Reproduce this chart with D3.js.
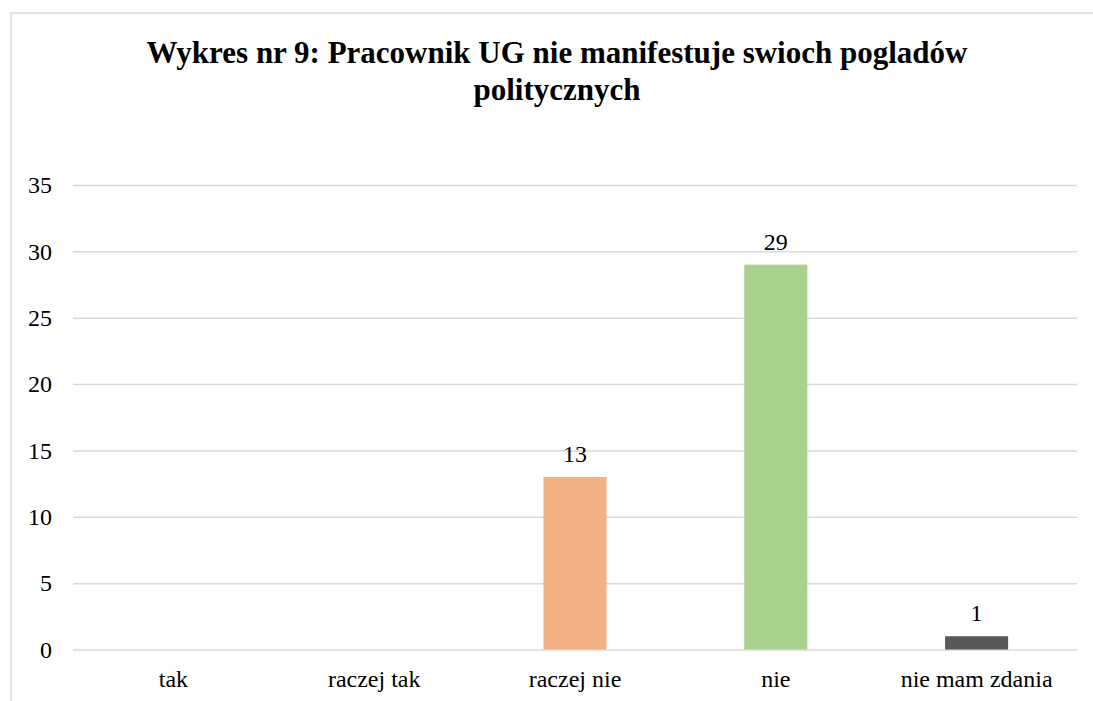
<!DOCTYPE html>
<html>
<head>
<meta charset="utf-8">
<script src="https://cdn.jsdelivr.net/npm/d3@7"></script>
<style>
  body { margin: 0; background: #fff; }
  #chart text { font-family: 'Times New Roman', 'Liberation Serif', serif !important; }
</style>
</head>
<body>
<div id="chart"></div>
<script>
// data
var categories = ['tak', 'raczej tak', 'raczej nie', 'nie', 'nie mam zdania'];
var values = [0, 0, 13, 29, 1];
var barColors = ['#5B9BD5', '#ED7D31', '#F4B183', '#A9D18E', '#595959'];
var yTicks = [0, 5, 10, 15, 20, 25, 30, 35];
var titleLines = ['Wykres nr 9: Pracownik UG nie manifestuje swioch pogladów', 'politycznych'];

var width = 1093, height = 701;
var margin = {left: 73, right: 16, top: 185, bottom: 52};
var serif = 'Times New Roman';

var svg = d3.select('#chart').append('svg')
  .attr('width', width).attr('height', height)
  .attr('font-family', serif);

// chart frame (runs off the right and bottom edges)
svg.append('rect')
  .attr('x', 11).attr('y', 13)
  .attr('width', 1100).attr('height', 720)
  .attr('fill', 'none').attr('stroke', '#D9D9D9').attr('stroke-width', 1.5);

var x = d3.scaleBand()
  .domain(categories)
  .range([margin.left, width - margin.right])
  .paddingInner(0.686).paddingOuter(0.343);

var y = d3.scaleLinear()
  .domain([0, 35])
  .range([height - margin.bottom + 0.5, margin.top]);

// gridlines + y labels
var yAxis = svg.append('g')
  .attr('transform', 'translate(' + margin.left + ',0)')
  .call(d3.axisLeft(y).tickValues(yTicks).tickSize(-(width - margin.left - margin.right)).tickPadding(21));
yAxis.attr('font-family', serif).attr('font-size', 24);
yAxis.select('.domain').remove();
yAxis.selectAll('.tick line').attr('stroke', '#D9D9D9').attr('stroke-width', 1.5);
yAxis.selectAll('.tick text').attr('fill', '#000');

// bars
svg.selectAll('rect.bar')
  .data(values)
  .enter()
  .append('rect')
  .attr('class', 'bar')
  .attr('x', function(d, i) { return x(categories[i]); })
  .attr('width', x.bandwidth())
  .attr('y', function(d) { return y(d); })
  .attr('height', function(d) { return y(0) - y(d); })
  .attr('fill', function(d, i) { return barColors[i]; });

// value labels (only for non-zero bars)
svg.selectAll('text.val')
  .data(values.filter(function(d) { return d > 0; }))
  .enter()
  .append('text')
  .attr('class', 'val')
  .attr('x', function(d) { return x(categories[values.indexOf(d)]) + x.bandwidth() / 2; })
  .attr('y', function(d) { return y(d) - 15; })
  .attr('text-anchor', 'middle')
  .attr('font-size', 24)
  .text(function(d) { return d; });

// category labels
var xAxis = svg.append('g')
  .attr('transform', 'translate(0,' + y(0) + ')')
  .call(d3.axisBottom(x).tickSize(0).tickPadding(20));
xAxis.attr('font-family', serif).attr('font-size', 24);
xAxis.select('.domain').remove();
xAxis.selectAll('.tick text').attr('fill', '#000');

// title
svg.selectAll('text.title')
  .data(titleLines)
  .enter()
  .append('text')
  .attr('class', 'title')
  .attr('x', 557)
  .attr('y', function(d, i) { return 63 + i * 37; })
  .attr('text-anchor', 'middle')
  .attr('font-size', 31).attr('font-weight', 'bold')
  .text(function(d) { return d; });
</script>
</body>
</html>
